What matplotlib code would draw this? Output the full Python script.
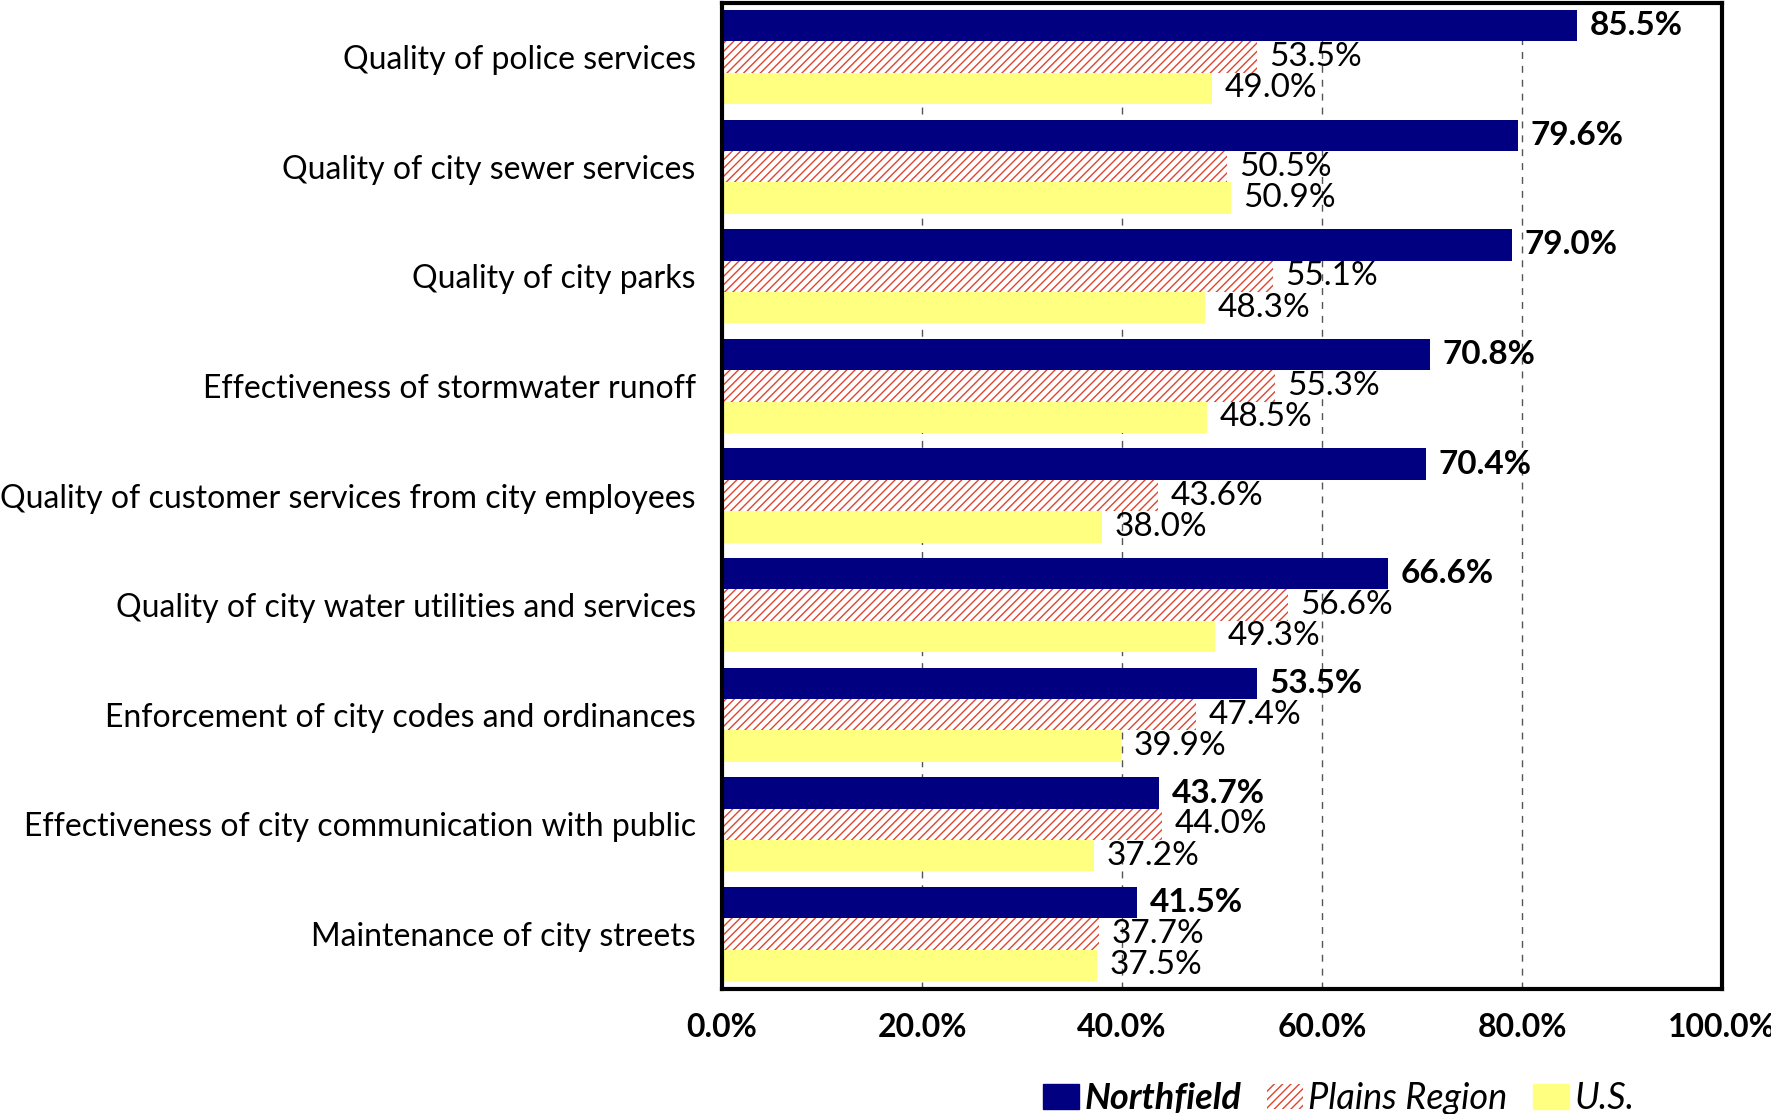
import matplotlib
matplotlib.use("Agg")
import matplotlib.pyplot as plt
from matplotlib.patches import Patch
import numpy as np

plt.rcParams['font.family'] = ['Lato', 'DejaVu Sans']
plt.rcParams['hatch.linewidth'] = 1.0

categories = [
    "Quality of police services",
    "Quality of city sewer services",
    "Quality of city parks",
    "Effectiveness of stormwater runoff",
    "Quality of customer services from city employees",
    "Quality of city water utilities and services",
    "Enforcement of city codes and ordinances",
    "Effectiveness of city communication with public",
    "Maintenance of city streets",
]
northfield = [85.5, 79.6, 79.0, 70.8, 70.4, 66.6, 53.5, 43.7, 41.5]
plains = [53.5, 50.5, 55.1, 55.3, 43.6, 56.6, 47.4, 44.0, 37.7]
us = [49.0, 50.9, 48.3, 48.5, 38.0, 49.3, 39.9, 37.2, 37.5]
xticks = [0, 20, 40, 60, 80, 100]
xtick_labels = ["0.0%", "20.0%", "40.0%", "60.0%", "80.0%", "100.0%"]
series_names = ["Northfield", "Plains Region", "U.S."]

navy = "#000080"
hatch_red = "#E0442E"
yellow = "#FFFF80"

fig = plt.figure(figsize=(17.71, 11.14), dpi=100)
ax = fig.add_axes([0.4077, 0.1122, 0.5647, 0.8855])

y = np.arange(len(categories))
h = 0.286
ax.barh(y - h, northfield, height=h, color=navy, zorder=2)
ax.barh(y, plains, height=h, facecolor="white", edgecolor=hatch_red,
        linewidth=0, hatch="////", zorder=2)
ax.barh(y + h, us, height=h, color=yellow, zorder=2)

cat_fs = 23
val_fs = 24
for i in range(len(categories)):
    ax.annotate(f"{northfield[i]:.1f}%", (northfield[i], y[i] - h),
                xytext=(9, 0), textcoords="offset points", va="center",
                ha="left", fontsize=val_fs, fontweight="bold", zorder=3)
    ax.annotate(f"{plains[i]:.1f}%", (plains[i], y[i]),
                xytext=(9, 0), textcoords="offset points", va="center",
                ha="left", fontsize=val_fs, zorder=3)
    ax.annotate(f"{us[i]:.1f}%", (us[i], y[i] + h),
                xytext=(9, 0), textcoords="offset points", va="center",
                ha="left", fontsize=val_fs, zorder=3)

ax.set_xlim(0, 100)
ax.set_ylim(8.502, -0.497)
ax.set_xticks(xticks)
ax.set_xticklabels(xtick_labels, fontsize=cat_fs, fontweight="bold")
ax.set_yticks(y)
ax.set_yticklabels(categories, fontsize=cat_fs)
ax.tick_params(axis="y", length=0, pad=19)
ax.tick_params(axis="x", length=0, pad=17)

ax.xaxis.grid(True, linestyle=(0, (5, 5)), color="#555555", linewidth=1.0, zorder=1)
ax.set_axisbelow(True)
for sp in ax.spines.values():
    sp.set_linewidth(3)
    sp.set_color("black")

handles = [
    Patch(facecolor=navy, edgecolor=navy),
    Patch(facecolor="white", edgecolor=hatch_red, linewidth=0, hatch="////"),
    Patch(facecolor=yellow, edgecolor=yellow),
]
leg = fig.legend(handles, series_names, loc="center",
                 bbox_to_anchor=(0.756, 0.014), ncol=3, frameon=False,
                 fontsize=26, handlelength=1.0, handleheight=0.7,
                 handletextpad=0.15, columnspacing=0.7)
for i, t in enumerate(leg.get_texts()):
    t.set_fontstyle("italic")
    if i == 0:
        t.set_fontweight("bold")

fig.savefig("out.png", dpi=100)
